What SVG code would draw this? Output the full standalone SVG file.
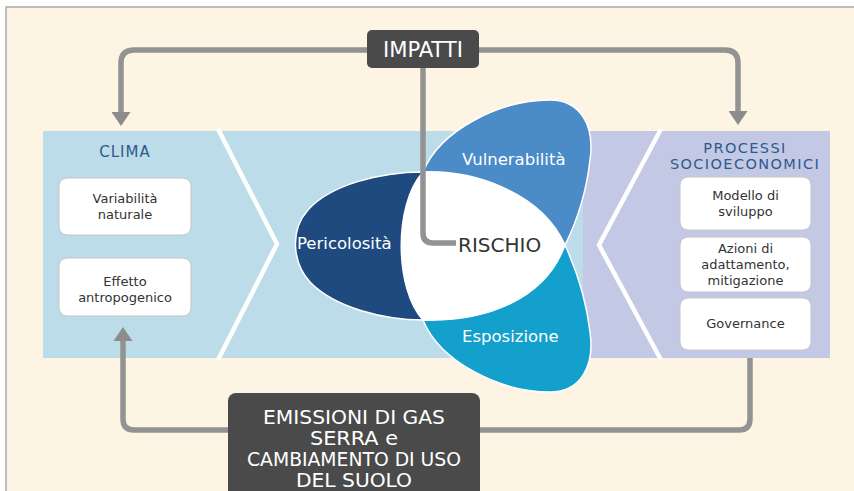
<svg xmlns="http://www.w3.org/2000/svg" width="854" height="491" viewBox="0 0 854 491">
<defs>
<style>
.conn{fill:none;stroke:#939393;stroke-width:5.5;stroke-linejoin:round}
.box{fill:#ffffff;stroke:#c4c4c4;stroke-width:1}
.bt{font-family:"DejaVu Sans","Liberation Sans",sans-serif;font-size:13px;fill:#333333;text-anchor:middle}
.hd{font-family:"DejaVu Sans","Liberation Sans",sans-serif;font-size:15px;fill:#2d5a8c;text-anchor:middle}
.pt{font-family:"DejaVu Sans","Liberation Sans",sans-serif;font-size:16.5px;fill:#ffffff}
.dk{fill:#4a4a4a}
.dt{font-family:"DejaVu Sans Condensed","Liberation Sans Narrow","DejaVu Sans",sans-serif;font-stretch:condensed;fill:#ffffff;text-anchor:middle;font-size:19px}
.chev{fill:none;stroke:#ffffff;stroke-width:4.5;stroke-linejoin:miter}
</style>
<marker id="arr" viewBox="0 0 14 19" refX="1" refY="9.5" markerWidth="14" markerHeight="19" markerUnits="userSpaceOnUse" orient="auto">
<polygon points="0,0 14,9.5 0,19" fill="#8c8c8c"/>
</marker>
</defs>
<rect x="0" y="0" width="854" height="491" fill="#ffffff"/>
<rect x="6" y="7" width="860" height="500" fill="#fef4e3" stroke="#a9a9a9" stroke-width="1.5"/>

<!-- band -->
<g id="band">
<rect x="43" y="131" width="540" height="227" fill="#bcdcea"/>
<rect x="583" y="131" width="247" height="227" fill="#c3c9e4"/>
<polyline class="chev" points="218,129 277,244 218,360"/>
<polyline class="chev" points="661,129 599,245 661,360"/>
</g>

<!-- connectors -->
<g id="connectors">
<path class="conn" d="M423,50 H134 Q121,50 121,63 V113" marker-end="url(#arr)"/>
<path class="conn" d="M423,50 H725 Q738,50 738,63 V112" marker-end="url(#arr)"/>
<path class="conn" d="M750,358 V419 Q750,430 739,430 H134 Q123,430 123,419 V340" marker-end="url(#arr)"/>
</g>

<!-- petals -->
<g id="pericolosita">
<path d="M423,172 C380,172 330,185 308,210 C290,230 292,262 310,282 C335,308 385,320 423,320 C395,290 393,205 423,172 Z" fill="#1f4a7f" stroke="#ffffff" stroke-width="1.5"/>
<text class="pt" x="297" y="249">Pericolosità</text>
</g>
<g id="vulnerabilita">
<path d="M423,172 C440,130 500,100 550,100 C580,100 595,125 590,160 C586,195 575,225 565,245 C540,190 470,170 423,172 Z" fill="#4a8bc8" stroke="#ffffff" stroke-width="1.5"/>
<text class="pt" x="462" y="165">Vulnerabilità</text>
</g>
<g id="esposizione">
<path d="M423,320 C440,362 500,392 550,392 C580,392 595,367 590,332 C586,297 575,267 565,245 C545,300 485,322 423,320 Z" fill="#14a0cc" stroke="#ffffff" stroke-width="1.5"/>
<text class="pt" x="462" y="342">Esposizione</text>
</g>
<g id="rischio">
<path d="M423,172 C470,170 540,190 565,245 C545,300 485,322 423,320 C395,290 393,205 423,172 Z" fill="#ffffff"/>
<path class="conn" d="M423,68 V233 Q423,243 433,243 H456"/>
<text x="458" y="252" font-family="DejaVu Sans, Liberation Sans, sans-serif" font-size="20" fill="#333333">RISCHIO</text>
</g>

<!-- IMPATTI -->
<g id="impatti">
<rect class="dk" x="367" y="30" width="112" height="38" rx="5"/>
<text class="dt" x="423" y="57" style="font-size:21px" textLength="80" lengthAdjust="spacingAndGlyphs">IMPATTI</text>
</g>

<!-- CLIMA -->
<g id="clima">
<text class="hd" x="125" y="157" letter-spacing="1">CLIMA</text>
</g>
<g id="variabilita">
<rect class="box" x="59" y="178" width="132" height="57" rx="8"/>
<text class="bt" x="125" y="203">Variabilità</text>
<text class="bt" x="125" y="219">naturale</text>
</g>
<g id="effetto">
<rect class="box" x="59" y="258" width="132" height="58" rx="8"/>
<text class="bt" x="125" y="286">Effetto</text>
<text class="bt" x="125" y="302">antropogenico</text>
</g>

<!-- PROCESSI -->
<g id="processi">
<text class="hd" x="745" y="153" style="font-size:14.5px" letter-spacing="1.4">PROCESSI</text>
<text class="hd" x="745" y="169" style="font-size:14.5px" letter-spacing="1.4">SOCIOECONOMICI</text>
</g>
<g id="modello">
<rect class="box" x="680" y="177" width="131" height="53" rx="8"/>
<text class="bt" x="745.5" y="200">Modello di</text>
<text class="bt" x="745.5" y="216">sviluppo</text>
</g>
<g id="azioni">
<rect class="box" x="680" y="237" width="131" height="55" rx="8"/>
<text class="bt" x="745.5" y="253">Azioni di</text>
<text class="bt" x="745.5" y="269">adattamento,</text>
<text class="bt" x="745.5" y="285">mitigazione</text>
</g>
<g id="governance">
<rect class="box" x="680" y="298" width="131" height="52" rx="8"/>
<text class="bt" x="745.5" y="328">Governance</text>
</g>

<!-- EMISSIONI -->
<g id="emissioni">
<rect class="dk" x="228" y="393" width="252" height="110" rx="8"/>
<text class="dt" x="354" y="424" textLength="182" lengthAdjust="spacingAndGlyphs">EMISSIONI DI GAS</text>
<text class="dt" x="354" y="445" textLength="88" lengthAdjust="spacingAndGlyphs">SERRA e</text>
<text class="dt" x="354" y="466" textLength="214" lengthAdjust="spacingAndGlyphs">CAMBIAMENTO DI USO</text>
<text class="dt" x="354" y="487" textLength="116" lengthAdjust="spacingAndGlyphs">DEL SUOLO</text>
</g>
</svg>
